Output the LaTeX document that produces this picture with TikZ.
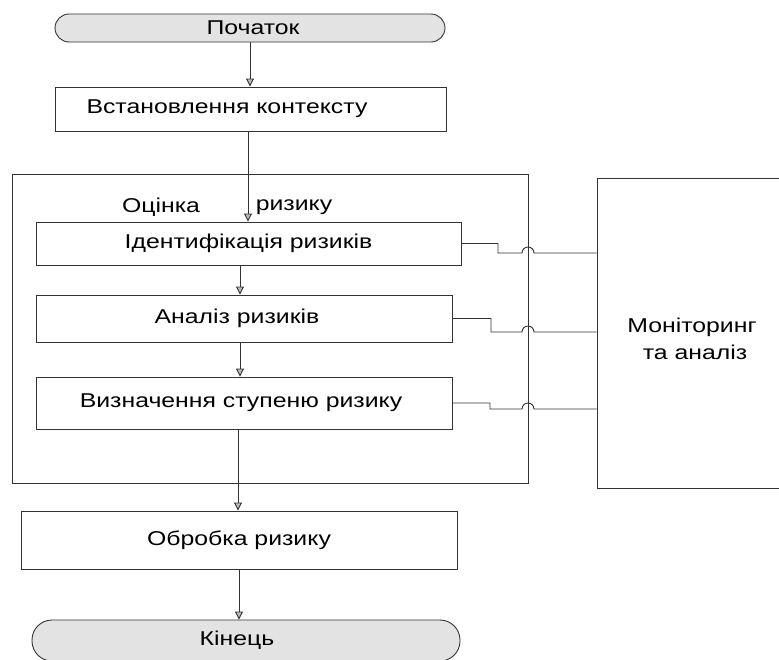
\documentclass[tikz,border=0pt]{standalone}
\usepackage{fontspec}
\setmainfont{Liberation Sans}[FakeStretch=1.24]
\usetikzlibrary{arrows.meta}
\begin{document}
\begin{tikzpicture}[x=1pt,y=-1pt,
  every node/.style={font=\fontsize{20}{24}\selectfont, text=black},
  box/.style={draw=black!80, line width=0.9pt, fill=white, inner sep=0pt},
  term/.style={box, fill=gray!22, rounded corners=14pt},
  ln/.style={draw=black!80, line width=0.9pt},
  arr/.style={ln, -{Triangle[width=8pt,length=8pt,fill=gray!55]}},
]
\useasboundingbox (0,0) rectangle (779,659);
\clip (0,0) rectangle (779,659);

\node[term, minimum width=390pt, minimum height=28pt] (start) at (250,28) {};
\node (startt) at (253,28) {Початок};
\node[box, minimum width=391pt, minimum height=44pt] (ctx) at (250.5,109) {};
\node (ctxt) at (227,109) {Встановлення контексту};
\node[box, fill=none, minimum width=516pt, minimum height=309pt] (outer) at (270,328.5) {};
\node[box, minimum width=425pt, minimum height=43pt] (id) at (248.5,243.5) {Ідентифікація ризиків};
\node[box, minimum width=416pt, minimum height=47pt] (an) at (244,318.5) {};
\node (ant) at (237,318.5) {Аналіз ризиків};
\node[box, minimum width=416pt, minimum height=52pt] (def) at (244,403) {};
\node (deft) at (241,403) {Визначення ступеню ризику};
\node[box, minimum width=200pt, minimum height=310pt] (mon) at (697,333) {};
\node (mon1) at (692,327) {Моніторинг};
\node (mon2) at (695,352) {та аналіз};
\node[box, minimum width=436pt, minimum height=58pt] (proc) at (239,540) {Обробка ризику};
\node[term, rounded corners=20pt, minimum width=428pt, minimum height=41pt] (end) at (246,640.5) {};
\node (endt) at (237,640.5) {Кінець};
\node (l1) at (161,207) {Оцінка};
\node (l2) at (294,207) {ризику};

\coordinate (c0) at (250,0);
\coordinate (c1) at (248,0);
\coordinate (c2) at (240,0);
\coordinate (c3) at (238,0);
\coordinate (c4) at (239,0);

\draw[arr] (start.south -| c0) -- (ctx.north -| c0);
\draw[arr] (ctx.south -| c1) -- (id.north -| c1);
\draw[arr] (id.south -| c2) -- (an.north -| c2);
\draw[arr] (an.south -| c2) -- (def.north -| c2);
\draw[arr] (def.south -| c3) -- (proc.north -| c3);
\draw[arr] (proc.south -| c4) -- (end.north -| c4);

\draw[ln] (id.east) -- (498,243.5) -- (498,253) -- (522,253)
  arc[start angle=180, end angle=360, radius=6] -- (mon.west |- 0,253);
\draw[ln] (an.east) -- (491,318.5) -- (491,332) -- (522,332)
  arc[start angle=180, end angle=360, radius=6] -- (mon.west |- 0,332);
\draw[ln] (def.east) -- (490,403) -- (490,409) -- (522,409)
  arc[start angle=180, end angle=360, radius=6] -- (mon.west |- 0,409);
\end{tikzpicture}
\end{document}
